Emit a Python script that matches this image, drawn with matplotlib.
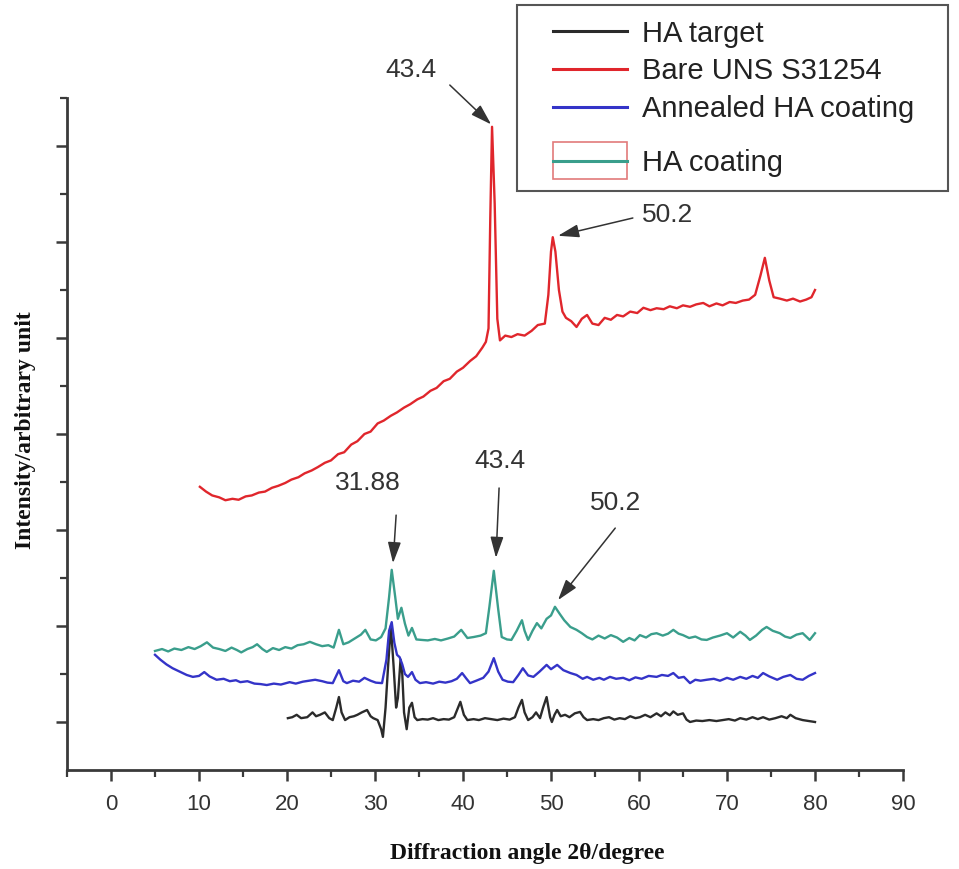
import matplotlib
matplotlib.use('Agg')
import matplotlib.pyplot as plt
from matplotlib.lines import Line2D
from matplotlib.patches import Rectangle
from matplotlib.legend_handler import HandlerBase
from matplotlib.patches import ArrowStyle

# ---------------- data ----------------
series_labels = ["HA target", "Bare UNS S31254", "Annealed HA coating", "HA coating"]

bare_x = [10.1, 10.8, 11.5, 12.3, 13.0, 13.8, 14.5, 15.3, 16.0, 16.8,
          17.5, 18.3, 19.0, 19.8, 20.5, 21.3, 22.0, 22.8, 23.5, 24.3,
          25.0, 25.8, 26.5, 27.3, 28.0, 28.8, 29.5, 30.3, 31.0, 31.8,
          32.5, 33.3, 34.0, 34.8, 35.5, 36.3, 37.0, 37.8, 38.5, 39.3,
          40.0, 40.8, 41.5, 42.2, 42.6, 42.9, 43.1, 43.3, 43.6, 43.9,
          44.2, 44.8, 45.5, 46.2, 47.0, 47.8, 48.5, 49.3, 49.7, 50.0,
          50.2, 50.5, 50.9, 51.3, 51.7, 52.3, 52.9, 53.5, 54.1, 54.7,
          55.4, 56.1, 56.8, 57.5, 58.2, 59.0, 59.8, 60.5, 61.3, 62.0,
          62.8, 63.5, 64.3, 65.0, 65.8, 66.5, 67.3, 68.0, 68.8, 69.5,
          70.3, 71.0, 71.8, 72.5, 73.2, 73.8, 74.3, 74.8, 75.3, 76.0,
          76.8, 77.5, 78.3, 79.0, 79.6, 80.0]
bare_y = [5.90, 5.80, 5.72, 5.68, 5.62, 5.65, 5.63, 5.70, 5.72, 5.78,
          5.80, 5.88, 5.92, 5.98, 6.05, 6.10, 6.18, 6.24, 6.31, 6.40,
          6.45, 6.58, 6.62, 6.78, 6.85, 7.00, 7.05, 7.22, 7.28, 7.38,
          7.45, 7.55, 7.62, 7.72, 7.78, 7.90, 7.96, 8.10, 8.15, 8.30,
          8.38, 8.52, 8.62, 8.80, 8.92, 9.20, 11.5, 13.4, 11.8, 9.40,
          8.95, 9.05, 9.02, 9.08, 9.05, 9.15, 9.27, 9.30, 9.90, 10.8,
          11.1, 10.8, 10.0, 9.55, 9.42, 9.35, 9.23, 9.40, 9.48, 9.30,
          9.27, 9.42, 9.38, 9.48, 9.45, 9.55, 9.52, 9.63, 9.58, 9.62,
          9.60, 9.66, 9.62, 9.68, 9.65, 9.70, 9.73, 9.66, 9.72, 9.68,
          9.75, 9.73, 9.78, 9.80, 9.90, 10.3, 10.67, 10.2, 9.85, 9.82,
          9.78, 9.82, 9.76, 9.80, 9.85, 10.0]

coat_x = [5.0, 5.8, 6.5, 7.2, 8.0, 8.8, 9.5, 10.2, 10.9, 11.6,
          12.3, 13.0, 13.7, 14.3, 14.8, 15.5, 16.1, 16.6, 17.2, 17.7,
          18.4, 19.1, 19.8, 20.5, 21.2, 21.9, 22.6, 23.3, 24.0, 24.7,
          25.3, 25.9, 26.4, 27.0, 27.7, 28.4, 28.9, 29.5, 30.1, 30.7,
          31.2, 31.6, 31.9, 32.3, 32.6, 33.0, 33.4, 33.8, 34.2, 34.7,
          35.3, 36.0, 36.8, 37.5, 38.3, 39.0, 39.8, 40.5, 41.2, 42.0,
          42.6, 43.0, 43.5, 44.0, 44.4, 45.0, 45.5, 46.1, 46.7, 47.0,
          47.4, 47.9, 48.4, 48.9, 49.5, 50.0, 50.45, 51.0, 51.5, 52.2,
          52.9, 53.5, 54.1, 54.7, 55.4, 56.1, 56.8, 57.5, 58.2, 58.9,
          59.5, 60.1, 60.8, 61.4, 62.0, 62.7, 63.3, 63.9, 64.5, 65.0,
          65.7, 66.4, 67.1, 67.7, 68.4, 69.2, 70.0, 70.7, 71.5, 72.1,
          72.6, 73.3, 74.0, 74.5, 75.2, 76.0, 76.6, 77.2, 77.9, 78.6,
          79.0, 79.4, 80.0]
coat_y = [2.48, 2.52, 2.47, 2.53, 2.50, 2.56, 2.52, 2.58, 2.66, 2.55,
          2.52, 2.48, 2.55, 2.50, 2.45, 2.52, 2.56, 2.62, 2.52, 2.46,
          2.54, 2.50, 2.56, 2.53, 2.60, 2.62, 2.67, 2.62, 2.58, 2.60,
          2.55, 2.92, 2.62, 2.66, 2.74, 2.82, 2.92, 2.72, 2.70, 2.77,
          2.95, 3.60, 4.17, 3.60, 3.15, 3.38, 3.05, 2.80, 2.96, 2.72,
          2.71, 2.70, 2.73, 2.70, 2.74, 2.78, 2.92, 2.75, 2.77, 2.80,
          2.85, 3.40, 4.15, 3.35, 2.77, 2.72, 2.71, 2.90, 3.12, 2.90,
          2.71, 2.90, 3.06, 2.95, 3.15, 3.22, 3.40, 3.25, 3.12, 2.98,
          2.92, 2.85, 2.77, 2.72, 2.80, 2.74, 2.81, 2.76, 2.67, 2.75,
          2.70, 2.81, 2.76, 2.83, 2.85, 2.80, 2.84, 2.92, 2.84, 2.81,
          2.75, 2.78, 2.72, 2.71, 2.76, 2.80, 2.85, 2.76, 2.88, 2.80,
          2.71, 2.80, 2.92, 2.98, 2.90, 2.85, 2.78, 2.75, 2.82, 2.85,
          2.78, 2.71, 2.85]

anneal_x = [5.0, 5.6, 6.3, 7.0, 7.8, 8.6, 9.3, 10.0, 10.6, 11.2,
            12.0, 12.8, 13.5, 14.2, 14.7, 15.5, 16.3, 17.0, 17.7, 18.5,
            19.3, 20.3, 21.0, 21.8, 22.5, 23.2, 24.0, 24.6, 25.2, 25.9,
            26.4, 26.8, 27.5, 28.2, 28.8, 29.5, 30.1, 30.8, 31.3, 31.6,
            31.9, 32.2, 32.5, 32.8, 33.1, 33.4, 33.75, 34.2, 34.6, 35.1,
            35.8, 36.6, 37.3, 38.0, 38.7, 39.3, 39.9, 40.4, 40.8, 41.5,
            42.3, 42.9, 43.5, 44.0, 44.5, 45.1, 45.7, 46.3, 46.8, 47.4,
            48.0, 48.7, 49.5, 50.0, 50.7, 51.4, 52.2, 52.9, 53.6, 54.1,
            54.8, 55.5, 56.0, 56.7, 57.4, 58.2, 58.9, 59.6, 60.3, 61.1,
            62.0, 62.6, 63.3, 63.9, 64.5, 65.1, 65.8, 66.4, 67.0, 67.7,
            68.5, 69.2, 70.0, 70.7, 71.5, 72.2, 72.9, 73.5, 74.1, 74.8,
            75.7, 76.4, 77.2, 77.9, 78.6, 79.3, 80.0]
anneal_y = [2.40, 2.30, 2.20, 2.12, 2.05, 1.98, 1.94, 1.96, 2.04, 1.95,
            1.88, 1.90, 1.85, 1.87, 1.83, 1.85, 1.80, 1.79, 1.77, 1.80,
            1.78, 1.83, 1.80, 1.84, 1.86, 1.88, 1.85, 1.82, 1.81, 2.08,
            1.85, 1.81, 1.86, 1.84, 1.92, 1.86, 1.82, 1.81, 2.30, 2.90,
            3.08, 2.65, 2.40, 2.35, 2.20, 2.00, 1.94, 2.04, 1.88, 1.81,
            1.83, 1.80, 1.84, 1.82, 1.85, 1.90, 2.02, 1.90, 1.81, 1.86,
            1.92, 2.05, 2.33, 2.05, 1.88, 1.84, 1.83, 1.98, 2.12, 1.97,
            1.94, 2.05, 2.19, 2.10, 2.19, 2.08, 2.02, 1.98, 1.90, 1.94,
            1.88, 1.92, 1.88, 1.94, 1.90, 1.92, 1.87, 1.93, 1.90, 1.96,
            1.94, 1.98, 1.96, 2.02, 1.92, 1.94, 1.81, 1.88, 1.86, 1.88,
            1.90, 1.86, 1.92, 1.88, 1.94, 1.90, 1.96, 1.92, 2.02, 1.95,
            1.88, 1.94, 1.98, 1.90, 1.88, 1.96, 2.02]

target_x = [20.1, 20.6, 21.1, 21.6, 22.3, 22.9, 23.3, 23.75, 24.3, 24.8,
            25.2, 25.6, 25.9, 26.2, 26.6, 27.1, 27.6, 28.0, 28.5, 29.1,
            29.5, 29.8, 30.3, 30.7, 30.9, 31.2, 31.5, 31.8, 32.1, 32.4,
            32.6, 32.9, 33.1, 33.3, 33.6, 33.9, 34.2, 34.5, 34.8, 35.4,
            36.0, 36.6, 37.2, 37.8, 38.4, 39.0, 39.7, 40.1, 40.5, 41.2,
            41.8, 42.5, 43.2, 43.9, 44.6, 45.3, 45.9, 46.3, 46.7, 47.0,
            47.4, 47.9, 48.3, 48.75, 49.1, 49.5, 49.9, 50.1, 50.4, 50.7,
            51.1, 51.6, 52.1, 52.7, 53.3, 53.7, 54.1, 54.8, 55.4, 56.0,
            56.6, 57.2, 57.8, 58.4, 59.0, 59.6, 60.1, 60.7, 61.3, 62.0,
            62.5, 63.0, 63.5, 63.9, 64.4, 65.0, 65.4, 65.8, 66.5, 67.2,
            68.0, 68.8, 69.5, 70.2, 70.9, 71.5, 72.2, 72.9, 73.5, 74.1,
            74.8, 75.5, 76.2, 76.8, 77.2, 77.8, 78.6, 79.3, 80.0]
target_y = [1.08, 1.10, 1.15, 1.08, 1.10, 1.20, 1.12, 1.15, 1.20, 1.08,
            1.04, 1.30, 1.52, 1.20, 1.04, 1.10, 1.12, 1.15, 1.20, 1.25,
            1.12, 1.08, 1.04, 0.85, 0.69, 1.30, 2.20, 3.00, 2.20, 1.30,
            1.50, 2.30, 2.00, 1.20, 0.85, 1.30, 1.40, 1.10, 1.04, 1.06,
            1.05, 1.08, 1.04, 1.06, 1.05, 1.10, 1.42, 1.15, 1.04, 1.06,
            1.04, 1.08, 1.06, 1.04, 1.07, 1.05, 1.10, 1.30, 1.46, 1.20,
            1.04, 1.10, 1.20, 1.08, 1.30, 1.52, 1.10, 1.00, 1.15, 1.25,
            1.12, 1.15, 1.10, 1.18, 1.21, 1.10, 1.04, 1.06, 1.04, 1.08,
            1.10, 1.05, 1.08, 1.06, 1.12, 1.08, 1.10, 1.15, 1.10, 1.18,
            1.12, 1.20, 1.14, 1.22, 1.15, 1.18, 1.05, 1.00, 1.03, 1.02,
            1.04, 1.02, 1.04, 1.06, 1.03, 1.08, 1.05, 1.10, 1.06, 1.10,
            1.05, 1.08, 1.12, 1.08, 1.15, 1.08, 1.04, 1.02, 1.00]

# peak annotations: (label, text position, arrow tail, arrow tip)
peak_labels = ["43.4", "50.2", "31.88", "43.4", "50.2"]
peak_text_xy = [(34.1, 14.58), (63.2, 11.56), (29.2, 5.98), (44.2, 6.44), (57.3, 5.56)]
peak_tail_xy = [(38.5, 14.27), (59.3, 11.50), (32.4, 5.31), (44.1, 5.875), (57.3, 5.04)]
peak_tip_xy = [(43.2, 13.45), (50.8, 11.13), (32.05, 4.31), (43.75, 4.42), (50.8, 3.54)]

x_ticks = [0, 10, 20, 30, 40, 50, 60, 70, 80, 90]

# ---------------- styling ----------------
c_black = '#2b2b2b'
c_red = '#e0262c'
c_blue = '#3434c8'
c_teal = '#3a9e8c'
axis_col = '#3a3a3a'
sans = ['Liberation Sans', 'DejaVu Sans']
serif = ['Liberation Serif', 'DejaVu Serif']

fig = plt.figure(figsize=(9.59, 8.69), dpi=100)
ax = fig.add_axes([67 / 959, 99 / 869, 836 / 959, 672 / 869])

lw = 1.7
ax.plot(target_x, target_y, color=c_black, lw=lw, zorder=3)
ax.plot(bare_x, bare_y, color=c_red, lw=lw, zorder=3)
ax.plot(anneal_x, anneal_y, color=c_blue, lw=lw, zorder=4)
ax.plot(coat_x, coat_y, color=c_teal, lw=lw, zorder=5)

ax.set_xlim(-5, 90)
ax.set_ylim(0, 14)
ax.set_xticks(x_ticks)
ax.set_xticks([-5, 5, 15, 25, 35, 45, 55, 65, 75, 85], minor=True)
ax.set_yticks([1, 3, 5, 7, 9, 11, 13])
ax.set_yticks([2, 4, 6, 8, 10, 12, 14], minor=True)
ax.set_yticklabels([])
ax.set_xticklabels([str(t) for t in x_ticks], family=sans, fontsize=16, color='#333333')

for s in ['top', 'right']:
    ax.spines[s].set_visible(False)
for s in ['left', 'bottom']:
    ax.spines[s].set_linewidth(2.0)
    ax.spines[s].set_color(axis_col)
ax.tick_params(which='major', direction='out', length=8, width=1.8, color=axis_col, pad=9)
ax.tick_params(which='minor', direction='out', length=5, width=1.6, color=axis_col)

ax.set_xlabel("Diffraction angle 2θ/degree", family=serif, fontweight='bold', fontsize=17, color='#111111')
ax.xaxis.set_label_coords(0.551, -0.108)
ax.set_ylabel("Intensity/arbitrary unit", family=serif, fontweight='bold', fontsize=17, color='#111111')
ax.yaxis.set_label_coords(-0.037, 0.506)

astyle = ArrowStyle('-|>', head_length=0.8, head_width=0.25)
for lab, txy, tail, tip in zip(peak_labels, peak_text_xy, peak_tail_xy, peak_tip_xy):
    ax.text(txy[0], txy[1], lab, ha='center', va='center', family=sans, fontsize=19,
            color='#333333', zorder=6)
    ax.annotate('', xy=tip, xytext=tail,
                arrowprops=dict(arrowstyle=astyle, color='#333333', lw=1.1,
                                mutation_scale=16, shrinkA=0, shrinkB=0), zorder=6)


# ---------------- legend ----------------
class OffsetLineHandler(HandlerBase):
    """Draws a legend line occupying only the right part of the handle box."""
    def __init__(self, color, line_px, boxed=False, **kw):
        super().__init__(**kw)
        self.color = color
        self.line_px = line_px
        self.boxed = boxed

    def create_artists(self, legend, orig_handle, xdescent, ydescent, width, height,
                       fontsize, trans):
        x1 = width - xdescent
        x0 = x1 - self.line_px * 72 / fig.dpi
        yc = (height - ydescent) / 2
        arts = []
        if self.boxed:
            h = 1.25 * fontsize
            rect = Rectangle((x0, yc - h / 2), x1 - x0, h, facecolor='white',
                             edgecolor='#e27a7a', lw=1.2, transform=trans)
            arts.append(rect)
        ln = Line2D([x0, x1], [yc, yc], color=self.color, lw=2.2, transform=trans)
        arts.append(ln)
        return arts


h_objs = [Line2D([], [], color=c) for c in (c_black, c_red, c_blue, c_teal)]
hmap = {h_objs[0]: OffsetLineHandler(c_black, 74),
        h_objs[1]: OffsetLineHandler(c_red, 74),
        h_objs[2]: OffsetLineHandler(c_blue, 74),
        h_objs[3]: OffsetLineHandler(c_teal, 74, boxed=True)}

leg_fs = 21
leg = fig.legend(h_objs, series_labels, handler_map=hmap,
                 loc='upper left',
                 bbox_to_anchor=(517 / 959, 1 - 190 / 869, 431 / 959, 185 / 869),
                 bbox_transform=fig.transFigure, mode='expand',
                 frameon=True, fancybox=False, shadow=False, framealpha=1,
                 edgecolor='#555555', borderpad=0.5, borderaxespad=0,
                 handlelength=3.27, handletextpad=0.5, labelspacing=0.33,
                 prop={'family': sans, 'size': leg_fs})
leg.get_frame().set_linewidth(1.5)
for t in leg.get_texts():
    t.set_color('#222222')

# give the boxed last entry a little more room, as in the reference
try:
    col = leg._legend_handle_box.get_children()[0]
    entry = col.get_children()[3]
    da = entry.get_children()[0]
    da.height += 18 * 72 / fig.dpi
except Exception:
    pass

fig.savefig('out.png', dpi=100, facecolor='white')
